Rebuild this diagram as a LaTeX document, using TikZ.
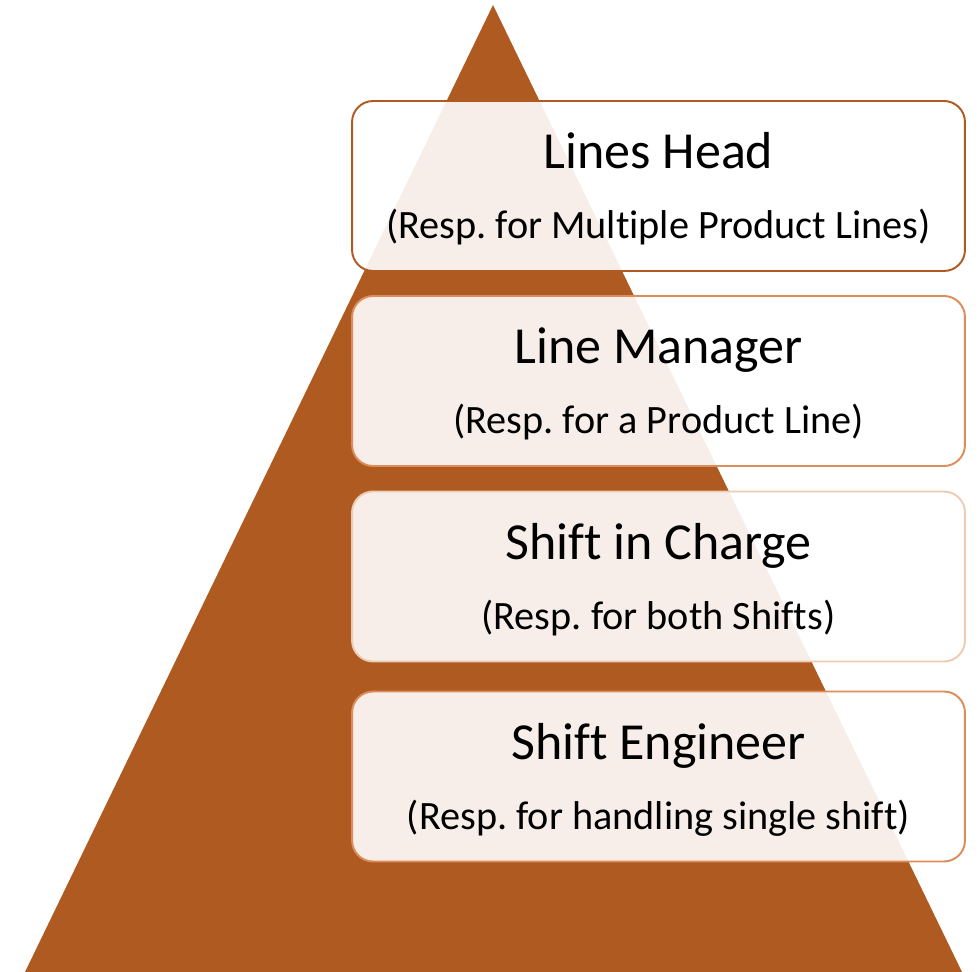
\documentclass[tikz,border=0pt]{standalone}
\usepackage{fontspec}
\setmainfont{Carlito}[Ligatures=NoCommon]
\usepackage{xcolor}
\frenchspacing

\definecolor{rust}{HTML}{AE5A21}
\definecolor{peach}{HTML}{DC8D5B}
\definecolor{paleedge}{HTML}{EECBB3}

\begin{document}
\begin{tikzpicture}[x=0.02cm, y=-0.02cm,
    tier/.style={rounded corners=0.42cm, fill=white, fill opacity=0.9,
        text opacity=1, line width=1.1pt, minimum width=12.26cm,
        minimum height=3.4cm},
    role/.style={anchor=base, font=\fontsize{29.6}{34}\selectfont},
    duty/.style={anchor=base, font=\fontsize{22.9}{27}\selectfont}]

    \useasboundingbox (0,0) rectangle (979,972);

    % pyramid
    \fill[rust] (493,5) -- (962,972) -- (25,972) -- cycle;

    % tiers
    \node[tier, draw=rust] (head) at (658.5,186) {};
    \node[tier, draw=peach] (manager) at (658.5,381) {};
    \node[tier, draw=paleedge] (charge) at (658.5,576.5) {};
    \node[tier, draw=peach] (engineer) at (658.5,776.5) {};

    \node[role] (headT) at (658.5,169) {Lines Head};
    \node[duty] (headS) at (658.5,239) {(Resp. for Multiple Product Lines)};

    \node[role] (managerT) at (658.5,364) {Line Manager};
    \node[duty] (managerS) at (658.5,434) {(Resp. for a Product Line)};

    \node[role] (chargeT) at (658.5,559) {Shift in Charge};
    \node[duty] (chargeS) at (658.5,629) {(Resp. for both Shifts)};

    \node[role] (engineerT) at (658.5,759) {Shift Engineer};
    \node[duty] (engineerS) at (658.5,829) {(Resp. for handling single shift)};
\end{tikzpicture}
\end{document}
